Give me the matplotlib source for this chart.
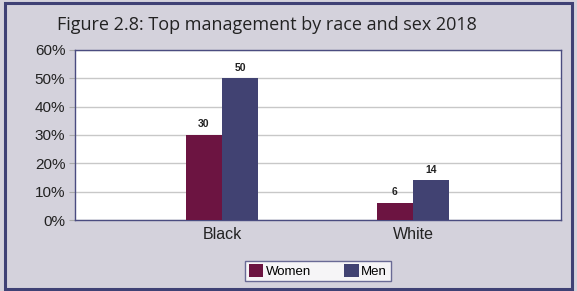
import matplotlib.pyplot as plt
from matplotlib.patches import Rectangle

categories = ["Black", "White"]
women = [30, 6]
men = [50, 14]
series_names = ["Women", "Men"]
yticks = [0, 10, 20, 30, 40, 50, 60]

plt.rcParams['font.family'] = ['Liberation Sans', 'DejaVu Sans']

fig = plt.figure(figsize=(5.77, 2.91), dpi=100)
fig.patch.set_facecolor('#d4d2dc')
W, H = 577, 291

# outer frame
fig.patches.append(Rectangle((5 / W, 2 / H), 567 / W, 286 / H, transform=fig.transFigure,
                             fill=False, edgecolor='#3f4175', linewidth=2.2))

ax = fig.add_axes([75 / W, 1 - 220 / H, 486 / W, 170 / H])
ax.set_facecolor('white')

x = [0, 1]
w = 0.19
c_women = '#6c1441'
c_men = '#414272'
b1 = ax.bar([i - w / 2 for i in x], women, w, color=c_women, label=series_names[0], zorder=3)
b2 = ax.bar([i + w / 2 for i in x], men, w, color=c_men, label=series_names[1], zorder=3)

for bars, vals in ((b1, women), (b2, men)):
    for r, v in zip(bars, vals):
        ax.text(r.get_x() + r.get_width() / 2, v + 2, str(v), ha='center', va='bottom',
                fontsize=7.5, fontweight='bold', color='#222222')

ax.set_xlim(-0.77, 1.775)
ax.set_ylim(0, 60)
ax.set_yticks(yticks)
ax.set_yticklabels([f"{t}%" for t in yticks], fontsize=11, color='#222222')
ax.set_xticks(x)
ax.set_xticklabels(categories, fontsize=11.5, color='#222222')
ax.tick_params(axis='x', length=0, pad=5)
ax.tick_params(axis='y', length=4, color='#aaaaaa', pad=3)
ax.yaxis.grid(True, color='#c8c8c8', linewidth=1, zorder=0)
for s in ax.spines.values():
    s.set_color('#4a4c80')
    s.set_linewidth(1)

fig.text(267 / W, 1 - 25 / H, "Figure 2.8: Top management by race and sex 2018",
         ha='center', va='center', fontsize=13, color='#222222', family=['Open Sans', 'DejaVu Sans'])

leg = fig.legend(loc='center', bbox_to_anchor=(318 / W, 1 - 271 / H), ncol=2, fontsize=9.5,
                 frameon=True, fancybox=False, handlelength=1.1, handleheight=1.1,
                 handletextpad=0.2, columnspacing=2.5, borderpad=0.25, borderaxespad=0)
leg.get_frame().set_edgecolor('#4a4c80')
leg.get_frame().set_linewidth(1)
leg.get_frame().set_facecolor('white')

fig.savefig("out.png", dpi=100, facecolor=fig.get_facecolor())
plt.close(fig)
